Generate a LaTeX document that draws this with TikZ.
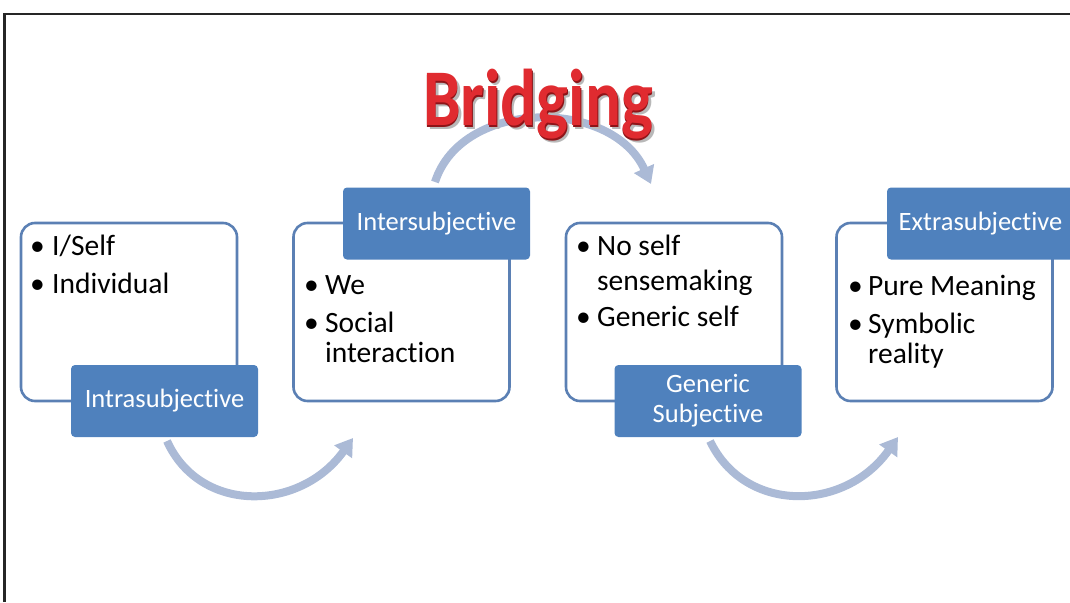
\documentclass[tikz,border=0pt]{standalone}
\usepackage{fontspec}
\setmainfont{Carlito}[Ligatures={NoCommon,NoRare,NoContextual}]
\usetikzlibrary{arrows.meta,calc}
\definecolor{labelblue}{HTML}{4F81BD}
\definecolor{boxline}{HTML}{5B80B4}
\definecolor{flowarrow}{HTML}{ABBAD6}
\definecolor{wordred}{HTML}{E02B30}
\definecolor{wordshade}{HTML}{8E1418}
\definecolor{wordglow}{HTML}{B8B8B8}
\definecolor{framegray}{HTML}{262626}
\newcommand{\bridgeword}{\fontsize{67}{70}\selectfont\bfseries Bridging}
\begin{document}
\begin{tikzpicture}[x=1pt,y=-1pt,
  card/.style={draw=boxline, line width=2.6pt, rounded corners=14pt, fill=white,
    minimum width=216pt, minimum height=178pt, inner sep=0pt},
  tag/.style={fill=labelblue, rounded corners=4pt, text=white, align=center,
    minimum width=187pt, minimum height=72pt, inner sep=0pt,
    font=\fontsize{26.5}{30}\selectfont},
  bul/.style={anchor=base west, inner sep=0pt, font=\fontsize{29.5}{32}\selectfont},
  flow/.style={draw=flowarrow, line width=8pt, -{Triangle[width=21pt,length=17pt]}},
  frame/.style={draw=framegray, line width=2.5pt}
]
\useasboundingbox (0,0) rectangle (1070,602);

% outer frame (top and left edges)
\draw[frame] (4.5,602) -- (4.5,14) -- (1070,14);

% curved flow arrows
\coordinate (a1s) at (167,441);
\coordinate (a1e) at (353,438);
\coordinate (a2s) at (710,441);
\coordinate (a2e) at (898,437);
\coordinate (a3s) at (435,182);
\coordinate (a3e) at (651,184);
\draw[flow] (a1s) .. controls (200,514) and (300,512) .. (a1e);
\draw[flow] (a2s) .. controls (745,514) and (845,512) .. (a2e);
\draw[flow] (a3s) .. controls (462,98) and (612,98) .. (a3e);

% "Bridging" word art: soft shadow, dark bevel edge and red face in one node
\node[anchor=base, inner sep=0pt] (bridging) at (538,125)
  {\scalebox{1}[1.2]{%
    \rlap{\hspace{3pt}\raisebox{-4pt}{\textcolor{wordglow}{\bridgeword}}}%
    \rlap{\hspace{0.8pt}\raisebox{-1.8pt}{\textcolor{wordshade}{\bridgeword}}}%
    \textcolor{wordred}{\bridgeword}}};

% content boxes
\node[card] (c1) at (129,312) {};
\node[card] (c2) at (401.5,312) {};
\node[card] (c3) at (674,312) {};
\node[card] (c4) at (944.5,312) {};

% box 1
\node[bul] (c1b1) at (30,255) {•};
\node[bul] (c1t1) at (52,255) {I/Self};
\node[bul] (c1b2) at (30,293) {•};
\node[bul] (c1t2) at (52,293) {Individual};

% box 2
\node[bul] (c2b1) at (304,294) {•};
\node[bul] (c2t1) at (325,294) {We};
\node[bul] (c2b2) at (304,332) {•};
\node[bul] (c2t2) at (325,332) {Social};
\node[bul] (c2t3) at (325,362) {interaction};

% box 3
\node[bul] (c3b1) at (576,255) {•};
\node[bul] (c3t1) at (597,255) {No self};
\node[bul] (c3t2) at (597,290) {sensemaking};
\node[bul] (c3b2) at (576,326) {•};
\node[bul] (c3t3) at (597,326) {Generic self};

% box 4
\node[bul] (c4b1) at (848,295) {•};
\node[bul] (c4t1) at (868,295) {Pure Meaning};
\node[bul] (c4b2) at (848,333) {•};
\node[bul] (c4t2) at (868,333) {Symbolic};
\node[bul] (c4t3) at (868,363) {reality};

% labels on top of the boxes
\node[tag] (t1) at (164.5,401) {Intrasubjective};
\node[tag] (t2) at (436.5,223.5) {Intersubjective};
\node[tag] (t3) at (708,401) {Generic\\Subjective};
\node[tag] (t4) at (980.5,223.5) {Extrasubjective};
\end{tikzpicture}
\end{document}
